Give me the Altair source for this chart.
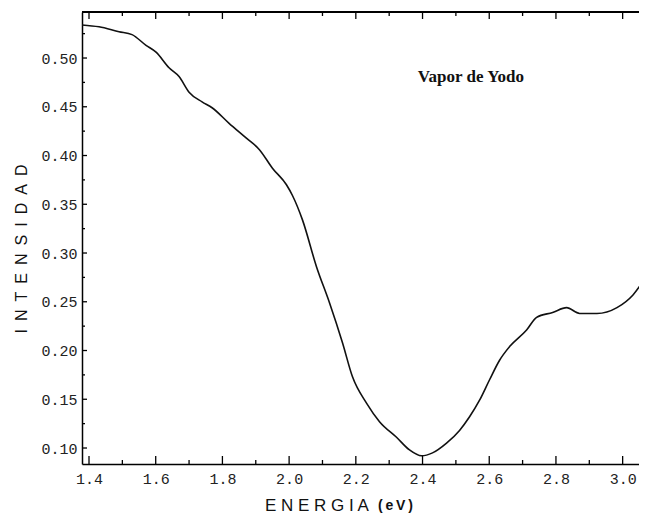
import altair as alt
import pandas as pd

# ---- data ----
energy = [1.376, 1.430, 1.490, 1.529, 1.571, 1.601, 1.640, 1.670, 1.700, 1.739,
          1.769, 1.820, 1.871, 1.911, 1.950, 1.992, 2.010, 2.040, 2.082, 2.121,
          2.160, 2.190, 2.232, 2.271, 2.322, 2.361, 2.397, 2.430, 2.472, 2.511,
          2.541, 2.571, 2.601, 2.631, 2.661, 2.712, 2.742, 2.790, 2.832, 2.871,
          2.923, 2.983, 3.031, 3.073]
intensity = [0.534, 0.532, 0.527, 0.524, 0.513, 0.506, 0.490, 0.481, 0.465, 0.455,
             0.449, 0.433, 0.418, 0.406, 0.387, 0.370, 0.359, 0.334, 0.286, 0.249,
             0.208, 0.173, 0.146, 0.127, 0.111, 0.098, 0.092, 0.095, 0.105, 0.118,
             0.132, 0.149, 0.170, 0.190, 0.204, 0.221, 0.234, 0.239, 0.244, 0.238,
             0.238, 0.244, 0.257, 0.277]

x_major = [1.4, 1.6, 1.8, 2.0, 2.2, 2.4, 2.6, 2.8, 3.0]
x_minor = [1.5, 1.7, 1.9, 2.1, 2.3, 2.5, 2.7, 2.9]
y_major = [0.10, 0.15, 0.20, 0.25, 0.30, 0.35, 0.40, 0.45, 0.50]
y_minor = [0.125, 0.175, 0.225, 0.275, 0.325, 0.375, 0.425, 0.475, 0.525]

label_text = ["Vapor de Yodo"]
label_x = [2.386]
label_y = [0.4754]

x_title = "E N E R G I A"
x_unit = "(\u2009e\u2009V\u2009)"
y_title = "\u2002".join("INTENSIDAD")

# ---- layout ----
W, H = 565, 452
X_DOM = [1.379, 3.073]
Y_DOM = [0.0836, 0.5472]

df = pd.DataFrame({"E": energy, "I": intensity})
xmaj = pd.DataFrame({"v": x_major})
xmin_ = pd.DataFrame({"v": x_minor})
ymaj = pd.DataFrame({"v": y_major})
ymin_ = pd.DataFrame({"v": y_minor})
lab = pd.DataFrame({"t": label_text, "x": label_x, "y": label_y})

xs = alt.Scale(domain=X_DOM, nice=False, zero=False)
ys = alt.Scale(domain=Y_DOM, nice=False, zero=False)

line = alt.Chart(df).mark_line(color="#111111", strokeWidth=1.6, interpolate="monotone", clip=True).encode(
    x=alt.X("E:Q", scale=xs, axis=alt.Axis(
        title=None, values=x_major, format=".1f", ticks=False, grid=False,
        domain=True, domainColor="#000", domainWidth=1.5,
        labelFont="Liberation Mono", labelFontSize=15, labelColor="#222",
        labelPadding=7, labelFlush=False)),
    y=alt.Y("I:Q", scale=ys, axis=alt.Axis(
        title=None, values=y_major, format=".2f", ticks=False, grid=False,
        domain=True, domainColor="#000", domainWidth=1.5,
        labelFont="Liberation Mono", labelFontSize=15, labelColor="#222",
        labelPadding=5)),
)

def vticks(d, y0, y1):
    return alt.Chart(d).mark_rule(color="#000", strokeWidth=1.3).encode(
        x=alt.X("v:Q", scale=xs), y=alt.value(y0), y2=alt.value(y1))

def hticks(d, x0, x1):
    return alt.Chart(d).mark_rule(color="#000", strokeWidth=1.3).encode(
        y=alt.Y("v:Q", scale=ys), x=alt.value(x0), x2=alt.value(x1))

top_line = alt.Chart(df).mark_rule(color="#000", strokeWidth=1.5).encode(
    x=alt.value(0), x2=alt.value(W), y=alt.value(0))

layers = [
    line,
    top_line,
    vticks(xmaj, H, H - 8), vticks(xmin_, H, H - 4),
    vticks(xmaj, 0, 7), vticks(xmin_, 0, 4),
    hticks(ymaj, 0, 5), hticks(ymin_, 0, 3),
]

annot = alt.Chart(lab).mark_text(
    font="Liberation Serif", fontSize=17, fontWeight="bold", color="#111",
    align="left", baseline="alphabetic").encode(
    x=alt.X("x:Q", scale=xs), y=alt.Y("y:Q", scale=ys), text="t:N")

xt = alt.Chart(lab).mark_text(
    font="Liberation Sans", fontSize=17, color="#111", align="left",
    baseline="alphabetic", text=x_title).encode(
    x=alt.value(183), y=alt.value(499))

xu = alt.Chart(lab).mark_text(
    font="Liberation Sans", fontSize=14, fontWeight="bold", color="#111",
    align="left", baseline="alphabetic", text=x_unit).encode(
    x=alt.value(296), y=alt.value(498))

yt = alt.Chart(lab).mark_text(
    font="Liberation Sans", fontSize=16, color="#111", align="center",
    baseline="middle", angle=270, text=y_title).encode(
    x=alt.value(-60), y=alt.value(237))

chart = alt.layer(*layers, annot, xt, xu, yt).properties(
    width=W, height=H,
    autosize=alt.AutoSizeParams(type="none"),
    padding={"left": 74, "top": 4, "right": -8, "bottom": 56},
    background="white",
).configure_view(stroke=None)

chart.save("out.html", embed_options={"renderer": "svg", "actions": False})
